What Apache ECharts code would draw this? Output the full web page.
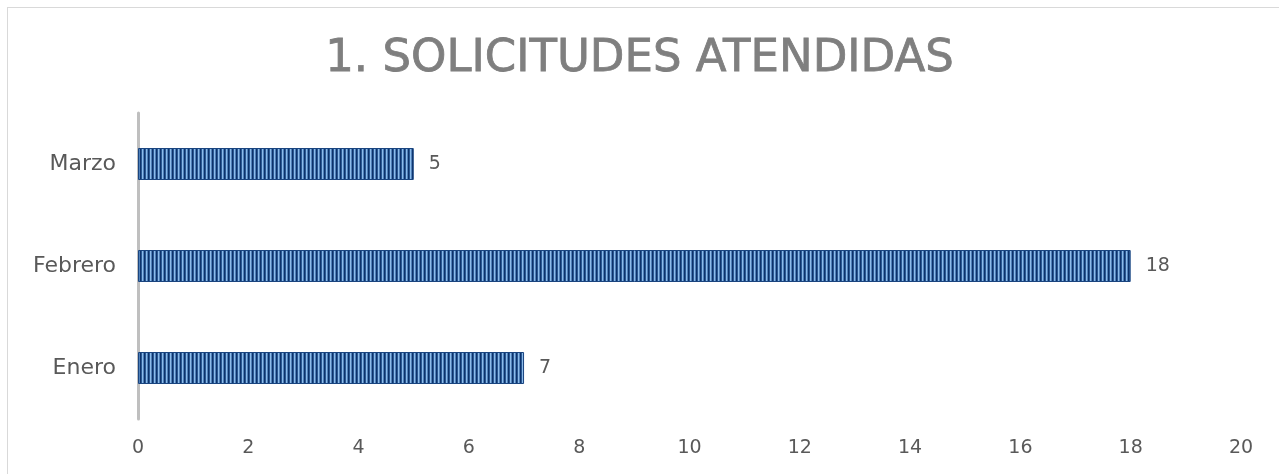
<!DOCTYPE html>
<html><head><meta charset="utf-8">
<script src="https://cdn.jsdelivr.net/npm/echarts@6/dist/echarts.min.js"></script>
<style>
html,body{margin:0;padding:0;background:#fff;}
#frame{position:absolute;left:7px;top:7px;width:1290px;height:480px;border:1px solid #d9d9d9;box-sizing:border-box;}
#c{position:absolute;left:0;top:0;width:1279px;height:474px;}
</style></head>
<body><div id="frame"></div><div id="c"></div>
<script>
const titleText = '1. SOLICITUDES ATENDIDAS';
const categories = ['Enero', 'Febrero', 'Marzo'];
const values = [7, 18, 5];
const xTicks = [0, 2, 4, 6, 8, 10, 12, 14, 16, 18, 20];

const pc = document.createElement('canvas');
pc.width = 4; pc.height = 32;
const g = pc.getContext('2d');
['#0d326a', '#2a5994', '#8dbbe9', '#4f80b9'].forEach((c, i) => { g.fillStyle = c; g.fillRect(i, 0, 1, 32); });

const chart = echarts.init(document.getElementById('c'));
chart.setOption({
  animation:false,
  title:{text:titleText,left:'center',top:32,
    textStyle:{fontFamily:'DejaVu Sans',fontWeight:'normal',fontSize:45,color:'#7f7f7f',
      textBorderColor:'#7f7f7f',textBorderWidth:0.8}},
  grid:{left:138,right:38,top:113,bottom:55,containLabel:false},
  xAxis:{type:'value',min:0,max:20,interval:2,
    axisLine:{show:false},axisTick:{show:false},splitLine:{show:false},
    axisLabel:{color:'#595959',fontSize:19,fontFamily:'DejaVu Sans',margin:20,
      formatter:v=>xTicks.includes(v)?String(v):''}},
  yAxis:{type:'category',data:categories,
    axisLine:{show:true,lineStyle:{color:'#bfbfbf',width:3}},
    axisTick:{show:false},
    axisLabel:{color:'#595959',fontSize:22,fontFamily:'DejaVu Sans',margin:22}},
  series:[{type:'bar',data:values,barWidth:32,
    itemStyle:{color:{image:pc,repeat:'repeat'},borderColor:'#1a4580',borderWidth:1},
    label:{show:true,position:'right',distance:15,color:'#595959',fontSize:19,fontFamily:'DejaVu Sans'}}]
});
</script></body></html>
